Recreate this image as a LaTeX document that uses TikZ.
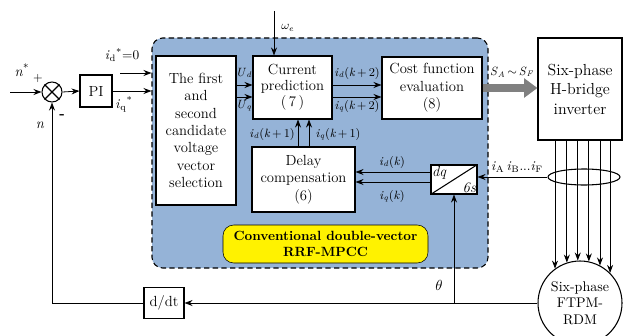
\documentclass[tikz,border=0pt]{standalone}
\usetikzlibrary{arrows.meta,shapes.geometric}
\definecolor{mpccblue}{RGB}{149,179,215}
\newcommand{\cur}[2]{\textit{#1}\textsubscript{\textit{#2}}}

\begin{document}
\begin{tikzpicture}[
    x=0.75pt, y=-0.75pt,
    block/.style={draw, thick, fill=white, align=center, inner sep=1pt, font=\fontsize{11}{13}\selectfont},
    lbl/.style={inner sep=1pt, font=\fontsize{9}{11}\selectfont},
    arrow/.style={semithick,->,>={Stealth[length=6pt,width=4.5pt]}}
]
\useasboundingbox (0,0) rectangle (623,335);

% Controller area
\node[draw, thick, dash pattern=on 4pt off 2.5pt, rounded corners=8pt, fill=mpccblue,
      minimum width=252pt, minimum height=172.5pt] (mpcc) at (320,153) {};
\node[draw, fill=yellow, rounded corners=8pt, align=center, minimum width=153.75pt, minimum height=28.5pt,
      font=\fontsize{10}{12.5}\selectfont\bfseries] (name) at (325.5,244) {Conventional double-vector\\RRF-MPCC};

% Blocks
\node[block, minimum width=60pt, minimum height=111.75pt] (sel) at (196,130.5)
    {The first\\and\\second\\candidate\\voltage\\vector\\selection};
\node[block, minimum width=59.25pt, minimum height=47.25pt, font=\fontsize{11}{12}\selectfont] (pred) at (292.5,87.5)
    {Current\\prediction\\(\,7\,)};
\node[block, minimum width=75pt, minimum height=46.5pt] (cost) at (432,88) {Cost function\\evaluation\\(8)};
\node[block, minimum width=77.25pt, minimum height=48.75pt] (delay) at (303.5,179.5) {Delay\\compensation\\(6)};
\node[block, minimum width=34.5pt, minimum height=21.75pt] (dq) at (454,179.5) {};
\node[block, minimum width=63pt, minimum height=76.5pt, font=\fontsize{12}{14.6}\selectfont] (inv) at (580,89)
    {Six-phase\\H-bridge\\inverter};
\node[block, circle, minimum size=63pt, font=\fontsize{10.5}{12.4}\selectfont] (motor) at (580,303)
    {Six-phase\\FTPM-\\RDM};
\node[draw, thick, ellipse, minimum width=54pt, minimum height=12pt, inner sep=0pt] (bundle) at (584,177) {};
\node[block, minimum width=24pt, minimum height=24pt] (pi) at (96,91) {PI};
\node[draw, thick, circle, minimum size=15pt, inner sep=0pt] (sum) at (52,92) {};
\node[block, minimum width=30pt, minimum height=23.25pt] (ddt) at (164,303) {d/dt};

% dq/6s block
\draw[thick] (dq.south west) -- (dq.north east);
\node[lbl, anchor=north west, font=\fontsize{11}{12}\selectfont\itshape] at (dq.north west) {dq};
\node[lbl, anchor=south east, font=\fontsize{11}{12}\selectfont\itshape] at (dq.south east) {6s};
\draw[thick] (sum.45) -- (sum.225);
\draw[thick] (sum.135) -- (sum.315);

% Free ends
\coordinate (nin) at (10,92);
\coordinate (idin) at (120,73);
\coordinate (win) at (274,11);

% Arrows
\draw[arrow] (nin) -- (sum.west);
\draw[arrow] (sum.east) -- (pi.west);
\draw[arrow] (pi.east) -- (mpcc.west |- pi.east);
\draw[arrow] (idin) -- (mpcc.west |- idin);
\draw[arrow] (win) -- (win |- pred.north);
\draw[arrow] (sel.east |- 0,85) -- (pred.west |- 0,85);
\draw[arrow] (sel.east |- 0,97) -- (pred.west |- 0,97);
\draw[arrow] (pred.east |- 0,85) -- (cost.west |- 0,85);
\draw[arrow] (pred.east |- 0,97) -- (cost.west |- 0,97);
\draw[arrow] (delay.north -| 298,0) -- (pred.south -| 298,0);
\draw[arrow] (delay.north -| 309,0) -- (pred.south -| 309,0);
\draw[arrow] (dq.west |- 0,172) -- (delay.east |- 0,172);
\draw[arrow] (dq.west |- 0,182) -- (delay.east |- 0,182);
\draw[line width=6pt, gray, -{Triangle[length=10pt,width=14pt]}] (cost.east) -- (cost.east -| inv.west);
\foreach \a in {126,108,93,78,62,45}
    \draw[arrow] (motor.\a |- inv.south) -- (motor.\a);
\draw[arrow] (bundle.west) -- (bundle.west -| dq.east);
\draw[arrow] (motor.west) -- (ddt.east);
\draw[arrow] (dq.south |- motor.west) -- (dq.south);
\draw[arrow] (ddt.west) -| (sum.south);

% Labels
\node[lbl, font=\fontsize{11}{12}\selectfont] at (22,70) {\textit{n}\textsuperscript{*}};
\node[lbl] at (38,78) {+};
\node[lbl, font=\fontsize{11}{12}\selectfont\bfseries] at (62,117) {-};
\node[lbl, font=\fontsize{11}{12}\selectfont\itshape] at (40,125) {n};
\node[lbl, font=\fontsize{10}{12}\selectfont] at (122,55) {\textit{i}\textsubscript{d}\textsuperscript{*}=0};
\node[lbl, font=\fontsize{10}{12}\selectfont] at (124,104) {\textit{i}\textsubscript{q}\textsuperscript{*}};
\node[lbl] at (288,28) {$\omega_e$};
\node[lbl] at (244,73) {\cur{U}{d}};
\node[lbl] at (244,106) {\cur{U}{q}};
\node[lbl] at (357,73) {\cur{i}{d}(\textit{k}\,+\,2)};
\node[lbl] at (357,106) {\cur{i}{q}(\textit{k}\,+\,2)};
\node[lbl] at (272,134) {\cur{i}{d}(\textit{k}\,+\,1)};
\node[lbl] at (338,134) {\cur{i}{q}(\textit{k}\,+\,1)};
\node[lbl] at (392,162) {\cur{i}{d}(\textit{k})};
\node[lbl] at (392,196) {\cur{i}{q}(\textit{k})};
\node[lbl] at (512,72) {\cur{S}{A}\,$\sim$\,\cur{S}{F}};
\node[lbl, font=\fontsize{10}{12}\selectfont] at (517,167)
    {\textit{i}\textsubscript{A}\,\textit{i}\textsubscript{B}...\textit{i}\textsubscript{F}};
\node[lbl, font=\fontsize{11}{12}\selectfont] at (439,285) {$\theta$};

\end{tikzpicture}
\end{document}
